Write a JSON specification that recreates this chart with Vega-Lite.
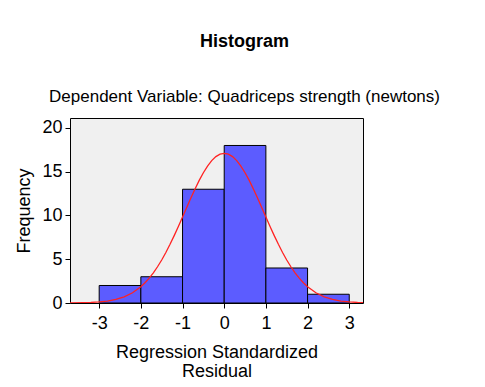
{
  "$schema": "https://vega.github.io/schema/vega-lite/v6.json",
  "width": 293,
  "height": 185,
  "autosize": {"type": "none"},
  "padding": {"left": 70, "top": 118, "right": 122, "bottom": 84},
  "background": "white",
  "title": {
    "text": "Histogram",
    "subtitle": "Dependent Variable: Quadriceps strength (newtons)",
    "anchor": "middle",
    "dx": 28,
    "font": "Liberation Sans",
    "fontSize": 18,
    "fontWeight": "bold",
    "color": "black",
    "subtitleFont": "Liberation Sans",
    "subtitleFontSize": 17,
    "subtitleColor": "black",
    "subtitlePadding": 38,
    "offset": 13
  },
  "config": {
    "view": {"stroke": "black", "strokeWidth": 1, "fill": "#f0f0f0"},
    "axis": {
      "labelFont": "Liberation Sans",
      "titleFont": "Liberation Sans",
      "labelColor": "black",
      "titleColor": "black",
      "tickColor": "black",
      "domainColor": "black",
      "grid": false,
      "labelFontSize": 18,
      "titleFontSize": 18,
      "titleFontWeight": "normal",
      "tickSize": 5,
      "labelExpr": "'' + datum.value"
    }
  },
  "datasets": {
    "bins": [
      {"bin_start": -3, "bin_end": -2, "count": 2},
      {"bin_start": -2, "bin_end": -1, "count": 3},
      {"bin_start": -1, "bin_end": 0, "count": 13},
      {"bin_start": 0, "bin_end": 1, "count": 18},
      {"bin_start": 1, "bin_end": 2, "count": 4},
      {"bin_start": 2, "bin_end": 3, "count": 1}
    ],
    "curve": [
      {"x": -3.7, "y": 0.009},
      {"x": -3.4, "y": 0.028},
      {"x": -3.2, "y": 0.059},
      {"x": -3.0, "y": 0.117},
      {"x": -2.8, "y": 0.222},
      {"x": -2.6, "y": 0.404},
      {"x": -2.4, "y": 0.703},
      {"x": -2.2, "y": 1.171},
      {"x": -2.0, "y": 1.865},
      {"x": -1.9, "y": 2.315},
      {"x": -1.8, "y": 2.841},
      {"x": -1.7, "y": 3.449},
      {"x": -1.6, "y": 4.141},
      {"x": -1.5, "y": 4.917},
      {"x": -1.4, "y": 5.774},
      {"x": -1.3, "y": 6.705},
      {"x": -1.2, "y": 7.701},
      {"x": -1.1, "y": 8.747},
      {"x": -1.0, "y": 9.827},
      {"x": -0.9, "y": 10.918},
      {"x": -0.8, "y": 11.995},
      {"x": -0.7, "y": 13.035},
      {"x": -0.6, "y": 14.008},
      {"x": -0.5, "y": 14.888},
      {"x": -0.4, "y": 15.65},
      {"x": -0.3, "y": 16.268},
      {"x": -0.2, "y": 16.725},
      {"x": -0.1, "y": 17.005},
      {"x": 0.0, "y": 17.1},
      {"x": 0.1, "y": 17.005},
      {"x": 0.2, "y": 16.725},
      {"x": 0.3, "y": 16.268},
      {"x": 0.4, "y": 15.65},
      {"x": 0.5, "y": 14.888},
      {"x": 0.6, "y": 14.008},
      {"x": 0.7, "y": 13.035},
      {"x": 0.8, "y": 11.995},
      {"x": 0.9, "y": 10.918},
      {"x": 1.0, "y": 9.827},
      {"x": 1.1, "y": 8.747},
      {"x": 1.2, "y": 7.701},
      {"x": 1.3, "y": 6.705},
      {"x": 1.4, "y": 5.774},
      {"x": 1.5, "y": 4.917},
      {"x": 1.6, "y": 4.141},
      {"x": 1.7, "y": 3.449},
      {"x": 1.8, "y": 2.841},
      {"x": 1.9, "y": 2.315},
      {"x": 2.0, "y": 1.865},
      {"x": 2.2, "y": 1.171},
      {"x": 2.4, "y": 0.703},
      {"x": 2.6, "y": 0.404},
      {"x": 2.8, "y": 0.222},
      {"x": 3.0, "y": 0.117},
      {"x": 3.2, "y": 0.059},
      {"x": 3.33, "y": 0.037}
    ]
  },
  "layer": [
    {
      "data": {"name": "bins"},
      "mark": {"type": "rect", "fill": "#5c5cff", "stroke": "black", "strokeWidth": 1},
      "encoding": {
        "x": {
          "field": "bin_start",
          "type": "quantitative",
          "scale": {"domain": [-3.7, 3.33], "nice": false, "zero": false},
          "axis": {"values": [-3, -2, -1, 0, 1, 2, 3], "title": ["Regression Standardized", "Residual"], "titleLineHeight": 19, "titlePadding": 11, "labelPadding": 6, "domain": false}
        },
        "x2": {"field": "bin_end"},
        "y": {
          "field": "count",
          "type": "quantitative",
          "scale": {"domain": [0, 21.14], "nice": false},
          "axis": {"values": [0, 5, 10, 15, 20], "title": "Frequency", "titlePadding": 8, "labelPadding": 3, "domain": false}
        },
        "y2": {"datum": 0}
      }
    },
    {
      "data": {"name": "curve"},
      "mark": {"type": "line", "color": "#f22", "strokeWidth": 1.3, "clip": true},
      "encoding": {
        "x": {"field": "x", "type": "quantitative"},
        "y": {"field": "y", "type": "quantitative"}
      }
    }
  ]
}
